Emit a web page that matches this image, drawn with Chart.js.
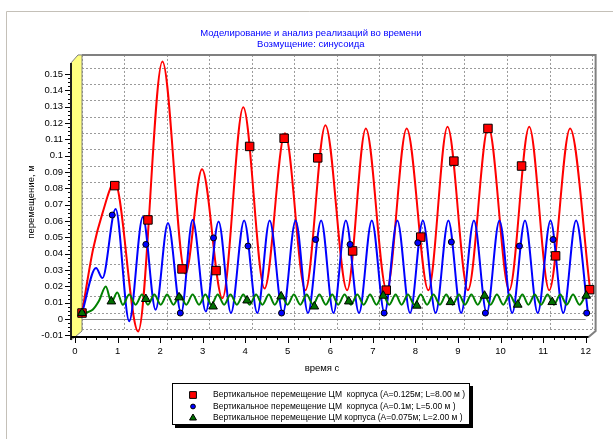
<!DOCTYPE html>
<html>
<head>
<meta charset="utf-8">
<script src="https://cdn.jsdelivr.net/npm/chart.js@4.4.1/dist/chart.umd.min.js"></script>
<style>
  body { margin: 0; background: #fff; }
</style>
</head>
<body>
<canvas id="grafico" width="613" height="439"></canvas>
<script>
const titulo = ['Моделирование и анализ реализаций во времени', 'Возмущение: синусоида'];
const ejeX = 'время с';
const ejeY = 'перемещение, м';
const leyenda = [
    'Вертикальное перемещение ЦМ  корпуса (A=0.125м; L=8.00 м )',
    'Вертикальное перемещение ЦМ  корпуса (A=0.1м; L=5.00 м )',
    'Вертикальное перемещение ЦМ корпуса (A=0.075м; L=2.00 м )'
];

const xTicks = [0, 1, 2, 3, 4, 5, 6, 7, 8, 9, 10, 11, 12];
const xTickLabels = ['0', '1', '2', '3', '4', '5', '6', '7', '8', '9', '10', '11', '12'];
const yTicks = [-0.01, 0, 0.01, 0.02, 0.03, 0.04, 0.05, 0.06, 0.07, 0.08, 0.09, 0.1, 0.11, 0.12, 0.13, 0.14, 0.15];
const yTickLabels = ['-0.01', '0', '0.01', '0.02', '0.03', '0.04', '0.05', '0.06', '0.07', '0.08', '0.09', '0.1', '0.11', '0.12', '0.13', '0.14', '0.15'];

// A=0.125 m, L=8 m
const redT = [0, 0.26, 0.48, 0.77, 1.32, 1.89, 2.43, 2.82, 3.30, 3.79, 4.29, 4.77, 5.25, 5.72, 6.23, 6.67, 7.16, 7.63, 8.14, 8.59, 9.07, 9.55, 10.04, 10.51, 10.98, 11.47, 11.94];
const redV = [0, 0.039, 0.061, 0.080, -0.0113, 0.154, 0.024, 0.088, 0.009, 0.126, 0.015, 0.110, 0.014, 0.115, 0.014, 0.113, 0.014, 0.113, 0.014, 0.114, 0.014, 0.114, 0.014, 0.114, 0.014, 0.113, 0.0145];
const redMarkT = [0, 0.77, 1.55, 2.35, 3.15, 3.94, 4.75, 5.54, 6.36, 7.15, 7.96, 8.74, 9.54, 10.33, 11.13, 11.93];
const redMarkV = [0, 0.078, 0.057, 0.027, 0.026, 0.102, 0.107, 0.095, 0.038, 0.014, 0.0465, 0.093, 0.113, 0.090, 0.035, 0.0143];

// A=0.1 m, L=5 m
const blueT = [0, 0.33, 0.48, 0.79, 1.11, 1.43, 1.73, 2.02, 2.33, 2.60, 2.91, 3.21, 3.50, 3.81, 4.12, 4.41, 4.72, 5.02, 5.31, 5.62, 5.91,
    6.20, 6.51, 6.81, 7.11, 7.41, 7.71, 8.01, 8.31, 8.61, 8.91, 9.21, 9.51, 9.81, 10.11, 10.41, 10.71, 11.01, 11.31, 11.61, 11.89];
const blueV = [0, 0.0276, 0.0214, 0.0637, -0.005, 0.0588, 0.002, 0.0551, 0, 0.0571, 0.001, 0.0561, 0, 0.0567, 0, 0.0567, 0, 0.0567, 0, 0.0567, 0,
    0.0567, 0, 0.0567, 0, 0.0567, 0, 0.0567, 0, 0.0567, 0, 0.0567, 0, 0.0567, 0, 0.0567, 0, 0.0567, 0, 0.0567, 0];
const blueMarkT = [0, 0.71, 1.50, 2.31, 3.09, 3.90, 4.69, 5.49, 6.30, 7.10, 7.89, 8.68, 9.48, 10.28, 11.07, 11.86];
const blueMarkV = [0, 0.060, 0.042, 0, 0.046, 0.041, 0, 0.045, 0.042, 0, 0.043, 0.0435, 0, 0.041, 0.045, 0];

// A=0.075 m, L=2 m
const greenT = [0, 0.12, 0.25, 0.40, 0.56, 0.69, 0.83, 0.96,
    1.11, 1.26, 1.41, 1.55, 1.70, 1.85, 2.00, 2.15, 2.30, 2.45, 2.60, 2.75, 2.90, 3.04, 3.19, 3.34, 3.49, 3.64, 3.79, 3.94,
    4.09, 4.24, 4.39, 4.53, 4.68, 4.83, 4.98, 5.13, 5.28, 5.43, 5.58, 5.73, 5.88, 6.02, 6.17, 6.32, 6.47, 6.62, 6.77, 6.92,
    7.07, 7.22, 7.37, 7.51, 7.66, 7.81, 7.96, 8.11, 8.26, 8.41, 8.56, 8.71, 8.86, 9.00, 9.15, 9.30, 9.45, 9.60, 9.75, 9.90,
    10.05, 10.20, 10.35, 10.49, 10.64, 10.79, 10.94, 11.09, 11.24, 11.39, 11.54, 11.69, 11.84];
const greenV = [0, 0.0005, 0.002, 0.0075, 0.0163, 0.0068, 0.0125, 0.005,
    0.0113, 0.0051, 0.0113, 0.0051, 0.0113, 0.0051, 0.0113, 0.0051, 0.0113, 0.0051, 0.0113, 0.0051, 0.0113, 0.0051, 0.0113, 0.0051, 0.0113, 0.0051, 0.0113, 0.0051,
    0.0113, 0.0051, 0.0113, 0.0051, 0.0113, 0.0051, 0.0113, 0.0051, 0.0113, 0.0051, 0.0113, 0.0051, 0.0113, 0.0051, 0.0113, 0.0051, 0.0113, 0.0051, 0.0113, 0.0051,
    0.0113, 0.0051, 0.0113, 0.0051, 0.0113, 0.0051, 0.0113, 0.0051, 0.0113, 0.0051, 0.0113, 0.0051, 0.0113, 0.0051, 0.0113, 0.0051, 0.0113, 0.0051, 0.0113, 0.0051,
    0.0113, 0.0051, 0.0113, 0.0051, 0.0113, 0.0051, 0.0113, 0.0051, 0.0113, 0.0051, 0.0113, 0.0051, 0.0113];
const greenMarkT = [0, 0.69, 1.50, 2.28, 3.08, 3.88, 4.68, 5.46, 6.27, 7.08, 7.87, 8.66, 9.46, 10.24, 11.05, 11.85];
const greenMarkV = [0, 0.0071, 0.0086, 0.0096, 0.004, 0.0077, 0.0102, 0.004, 0.0071, 0.0106, 0.0045, 0.0067, 0.0106, 0.0051, 0.0067, 0.0106];

const familia = "'Liberation Sans', Arial, sans-serif";
const fuente = { family: familia, size: 9.5 };
const DX = 7, DY = 6; // depth of the 3D box (back wall is shifted right/up)

const toPoints = (ts, vs) => ts.map((t, i) => ({ x: t, y: vs[i] }));

function lineSet(ts, vs, color, order) {
    return {
        data: toPoints(ts, vs),
        borderColor: color,
        borderWidth: 2,
        pointRadius: 0,
        cubicInterpolationMode: 'monotone',
        fill: false,
        clip: false,
        order: order
    };
}

function markSet(ts, vs, style, radius, fillColor, order) {
    return {
        data: toPoints(ts, vs),
        showLine: false,
        pointStyle: style,
        pointRadius: radius,
        pointBackgroundColor: fillColor,
        pointBorderColor: '#000',
        pointBorderWidth: 1,
        clip: false,
        order: order
    };
}

const marcas = [
    { style: 'rect', radius: 6, color: '#ff0000' },
    { style: 'circle', radius: 3, color: '#0000ff' },
    { style: 'triangle', radius: 5, color: '#007000' }
];

const caja3d = {
    id: 'caja3d',
    beforeDraw(chart) {
        const ctx = chart.ctx;
        ctx.save();
        ctx.fillStyle = '#fff';
        ctx.fillRect(0, 0, chart.width, chart.height);
        ctx.strokeStyle = '#c4c0b8';
        ctx.lineWidth = 1;
        ctx.beginPath();
        ctx.moveTo(6.5, chart.height);
        ctx.lineTo(6.5, 11.5);
        ctx.lineTo(chart.width, 11.5);
        ctx.stroke();
        ctx.restore();
    },
    beforeDatasetsDraw(chart) {
        const { ctx, chartArea: a, scales: { x, y } } = chart;
        const fx = (t) => x.getPixelForValue(t) - DX;
        const fy = (v) => y.getPixelForValue(v) + DY;
        ctx.save();

        // back wall border
        ctx.strokeStyle = '#808080';
        ctx.lineWidth = 2;
        ctx.beginPath();
        ctx.moveTo(a.left, a.top);
        ctx.lineTo(a.right, a.top);
        ctx.lineTo(a.right, a.bottom);
        ctx.lineTo(a.right - DX, a.bottom + DY);
        ctx.stroke();

        // left wall
        const wl = a.left - DX - 4;
        ctx.fillStyle = '#ffff80';
        ctx.beginPath();
        ctx.moveTo(wl, a.top + DY + 2);
        ctx.lineTo(a.left - 4, a.top);
        ctx.lineTo(a.left, a.top);
        ctx.lineTo(a.left, a.bottom);
        ctx.lineTo(a.left - DX, a.bottom + DY);
        ctx.lineTo(wl, a.bottom + DY + 3);
        ctx.closePath();
        ctx.fill();
        ctx.strokeStyle = '#808080';
        ctx.lineWidth = 1;
        ctx.stroke();
        ctx.strokeStyle = '#202020';
        ctx.lineWidth = 2;
        ctx.beginPath();
        ctx.moveTo(wl, a.top + DY + 2);
        ctx.lineTo(wl, a.bottom + DY + 3);
        ctx.stroke();

        // zero level on the front plane
        ctx.strokeStyle = '#8a8a8a';
        ctx.lineWidth = 1;
        ctx.beginPath();
        ctx.moveTo(a.left, Math.round(fy(0)) + 0.5);
        ctx.lineTo(fx(12), Math.round(fy(0)) + 0.5);
        ctx.stroke();

        // front bottom axis
        ctx.strokeStyle = '#000';
        ctx.lineWidth = 2;
        ctx.beginPath();
        ctx.moveTo(wl, a.bottom + DY);
        ctx.lineTo(a.right - DX, a.bottom + DY);
        ctx.stroke();

        ctx.lineWidth = 1;
        ctx.beginPath();
        for (let t = 0; t <= 12; t += 0.25) {
            const px = Math.round(fx(t)) + 0.5;
            const len = Number.isInteger(t) ? 5 : 2;
            ctx.moveTo(px, a.bottom + DY + 1);
            ctx.lineTo(px, a.bottom + DY + 1 + len);
        }
        for (let k = -4; k <= 60; k++) {
            const v = k * 0.0025;
            const py = Math.round(fy(v)) + 0.5;
            if (py < a.top + DY || py > a.bottom + DY) continue;
            const len = k % 4 === 0 ? 5 : 2;
            ctx.moveTo(wl - 1, py);
            ctx.lineTo(wl - 1 - len, py);
        }
        ctx.stroke();

        // axis titles
        ctx.fillStyle = '#000';
        ctx.font = `9.5px ${familia}`;
        ctx.textAlign = 'center';
        ctx.textBaseline = 'middle';
        ctx.fillText(ejeX, 322, 368);
        ctx.translate(31, 202);
        ctx.rotate(-Math.PI / 2);
        ctx.fillText(ejeY, 0, 0);
        ctx.restore();
    },
    afterDraw(chart) {
        const ctx = chart.ctx;
        const bx = 172, by = 383, bw = 298, bh = 42;
        ctx.save();
        ctx.fillStyle = '#000';
        ctx.fillRect(bx + 3, by + 3, bw, bh);
        ctx.fillStyle = '#fff';
        ctx.fillRect(bx, by, bw, bh);
        ctx.strokeStyle = '#000';
        ctx.lineWidth = 1;
        ctx.strokeRect(bx + 0.5, by + 0.5, bw - 1, bh - 1);

        ctx.font = `8.5px ${familia}`;
        ctx.textBaseline = 'middle';
        ctx.textAlign = 'left';
        leyenda.forEach((txt, i) => {
            const ry = by + 12 + i * 11.5;
            const m = marcas[i];
            ctx.fillStyle = m.color;
            ctx.strokeStyle = '#000';
            ctx.lineWidth = 1;
            Chart.helpers.drawPoint(ctx, { pointStyle: m.style, radius: m.radius * 0.8, rotation: 0, borderWidth: 1 }, bx + 21, ry);
            ctx.fillStyle = '#000';
            ctx.fillText(txt, bx + 41, ry);
        });
        ctx.restore();
    }
};

const canvas = document.getElementById('grafico');
const myChart = new Chart(canvas, {
    type: 'line',
    data: {
        datasets: [
            lineSet(redT, redV, '#ff0000', 5),
            lineSet(blueT, blueV, '#0000ff', 4),
            lineSet(greenT, greenV, '#008000', 3),
            markSet(redMarkT, redMarkV, marcas[0].style, marcas[0].radius, marcas[0].color, 2),
            markSet(blueMarkT, blueMarkV, marcas[1].style, marcas[1].radius, marcas[1].color, 1),
            markSet(greenMarkT, greenMarkV, marcas[2].style, marcas[2].radius, marcas[2].color, 0)
        ]
    },
    options: {
        responsive: false,
        animation: false,
        events: [],
        layout: { padding: { left: 23.4, right: 14.7, top: 0, bottom: 0 } },
        plugins: {
            legend: { display: false },
            tooltip: { enabled: false },
            title: {
                display: true,
                text: titulo,
                color: '#0000ff',
                font: { ...fuente, weight: 'normal', lineHeight: 1.25 },
                padding: { top: 27, bottom: 4.2 }
            }
        },
        scales: {
            x: {
                type: 'linear',
                min: 0,
                max: 12.07,
                afterBuildTicks: (ax) => { ax.ticks = xTicks.map(v => ({ value: v })); },
                afterFit: (ax) => { ax.height = 108; },
                grid: { color: '#9a9a9a', drawTicks: false },
                border: { display: false, dash: [2, 2] },
                ticks: {
                    padding: 15,
                    labelOffset: -DX,
                    color: '#000',
                    font: fuente,
                    maxRotation: 0,
                    autoSkip: false,
                    callback: (v, i) => xTickLabels[i]
                }
            },
            y: {
                min: -0.011,
                max: 0.158,
                afterBuildTicks: (ax) => { ax.ticks = yTicks.map(v => ({ value: v })); },
                afterFit: (ax) => { ax.width = 58.6; },
                grid: { color: '#9a9a9a', drawTicks: false },
                border: { display: false, dash: [2, 2] },
                ticks: {
                    padding: 19,
                    labelOffset: DY,
                    color: '#000',
                    font: fuente,
                    autoSkip: false,
                    callback: (v, i) => yTickLabels[i]
                }
            }
        }
    },
    plugins: [caja3d]
});
</script>
</body>
</html>
